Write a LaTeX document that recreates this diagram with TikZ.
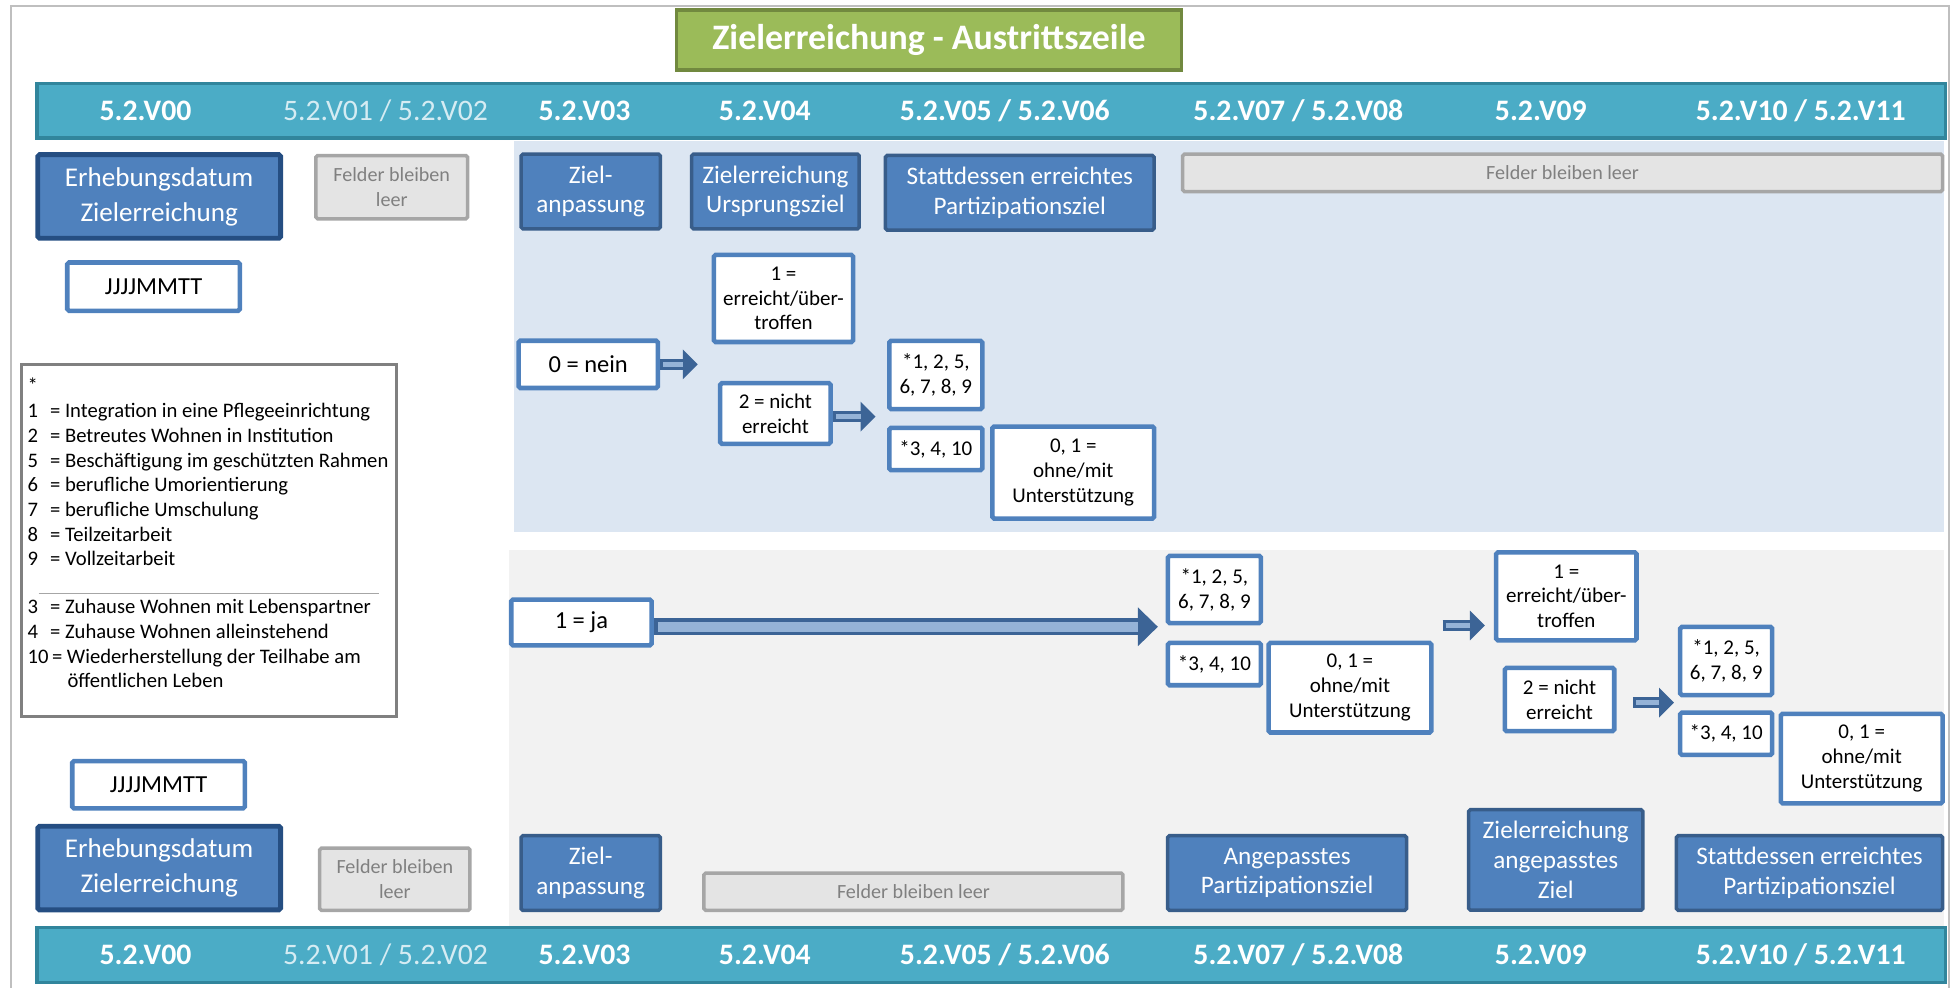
\documentclass[tikz,border=0pt]{standalone}
\usepackage{fontspec}
\setmainfont{Carlito}
\usetikzlibrary{arrows.meta}

\definecolor{framegray}{HTML}{BFBFBF}
\definecolor{titlefill}{HTML}{9BBB59}
\definecolor{titleline}{HTML}{71893F}
\definecolor{bandfill}{HTML}{4BACC6}
\definecolor{bandline}{HTML}{31859C}
\definecolor{bandfaint}{HTML}{D5ECF3}
\definecolor{boxfill}{HTML}{4F81BD}
\definecolor{boxline}{HTML}{385D8A}
\definecolor{dateline}{HTML}{254E82}
\definecolor{valline}{HTML}{4F81BD}
\definecolor{emptyfill}{HTML}{E4E4E4}
\definecolor{emptyline}{HTML}{A6A6A6}
\definecolor{emptytext}{HTML}{808080}
\definecolor{bgblue}{HTML}{DCE6F2}
\definecolor{bggray}{HTML}{F2F2F2}
\definecolor{arrline}{HTML}{3C6496}
\definecolor{arrshine}{HTML}{95B3D7}

\begin{document}
\begin{tikzpicture}[x=0.025cm, y=-0.025cm,
  band/.style={draw=bandline, fill=bandfill, line width=2pt, minimum width=38.35cm, minimum height=1.1cm, inner sep=0pt},
  bandtext/.style={text=white, font=\fontsize{17}{20}\selectfont\bfseries},
  bandfaint/.style={text=bandfaint, font=\fontsize{17}{20}\selectfont},
  fieldbox/.style={draw=boxline, fill=boxfill, line width=2pt, rounded corners=1pt, text=white, align=center, inner sep=0pt, font=\fontsize{14.4}{17}\selectfont},
  datebox/.style={fieldbox, draw=dateline, line width=2.8pt, font=\fontsize{15.5}{20}\selectfont},
  emptybox/.style={draw=emptyline, fill=emptyfill, line width=2pt, rounded corners=1pt, text=emptytext, align=center, inner sep=0pt, font=\fontsize{11.5}{14}\selectfont},
  valbox/.style={draw=valline, fill=white, line width=2.6pt, rounded corners=1pt, align=center, inner sep=0pt, font=\fontsize{12}{14.2}\selectfont},
  bigval/.style={valbox, font=\fontsize{14}{17}\selectfont},
  legendtext/.style={inner sep=0pt, align=left, font=\fontsize{11.8}{14.1}\selectfont},
  smallarrow/.style={draw=arrline, line width=0.225cm, -{Triangle[length=0.3cm, width=0.6cm, line width=0pt]}},
  bigarrow/.style={draw=arrline, line width=0.35cm, -{Triangle[length=0.4cm, width=0.78cm, line width=0pt]}},
  smallshine/.style={draw=arrshine, line width=0.11cm},
  bigshine/.style={draw=arrshine, line width=0.2cm}
]
\useasboundingbox (0,0) rectangle (1568,794);

% frame and backgrounds
\draw[framegray, line width=1.2pt] (9,820) -- (9,5) -- (1567,5) -- (1567,820);
\fill[bgblue] (413,113) rectangle (1563,428);
\fill[bggray] (409,442) rectangle (1563,745);

% title and header bands
\node[draw=titleline, fill=titlefill, line width=2.2pt, minimum width=10.15cm, minimum height=1.2cm, inner sep=0pt,
  text=white, font=\fontsize{20.5}{24}\selectfont\bfseries] (title) at (747,32) {Zielerreichung - Austrittszeile};

\node[band] (bandtop) at (797,89) {};
\node[band] (bandbot) at (797,768) {};

\foreach \y/\nm in {89/t, 768/b} {
  \node[bandtext] (v00\nm) at (117,\y) {5.2.V00};
  \node[bandfaint] (v01\nm) at (310,\y) {5.2.V01 / 5.2.V02};
  \node[bandtext] (v03\nm) at (470,\y) {5.2.V03};
  \node[bandtext] (v04\nm) at (615,\y) {5.2.V04};
  \node[bandtext] (v05\nm) at (808,\y) {5.2.V05 / 5.2.V06};
  \node[bandtext] (v07\nm) at (1044,\y) {5.2.V07 / 5.2.V08};
  \node[bandtext] (v09\nm) at (1239,\y) {5.2.V09};
  \node[bandtext] (v10\nm) at (1448,\y) {5.2.V10 / 5.2.V11};
}

% upper field row
\node[datebox, minimum width=4.88cm, minimum height=1.68cm] (erhtop) at (128,158) {Erhebungsdatum\\Zielerreichung};
\node[emptybox, minimum width=3.05cm, minimum height=1.27cm] (leertop) at (315,150.5) {Felder bleiben\\leer};
\node[fieldbox, minimum width=2.8cm, minimum height=1.5cm] (zieltop) at (475,154) {Ziel-\\anpassung};
\node[fieldbox, minimum width=3.37cm, minimum height=1.5cm] (urspr) at (623.5,154) {Zielerreichung\\Ursprungsziel};
\node[fieldbox, minimum width=5.4cm, minimum height=1.5cm] (statttop) at (820,155) {Stattdessen erreichtes\\Partizipationsziel};
\node[emptybox, minimum width=15.27cm, minimum height=0.75cm] (leerlong) at (1256.5,139) {Felder bleiben leer};

\node[bigval, minimum width=3.47cm, minimum height=0.97cm] (datetop) at (123.5,230.5) {JJJJMMTT};

% legend
\node[draw=gray, line width=1.8pt, minimum width=7.55cm, minimum height=7.08cm] (legend) at (168,434.5) {};
\node[legendtext, anchor=base west] (star) at (22,316) {*};
\node[legendtext, anchor=base west] (listA) at (22,455) {%
\makebox[0.45cm][l]{1}= Integration in eine Pflegeeinrichtung\\
\makebox[0.45cm][l]{2}= Betreutes Wohnen in Institution\\
\makebox[0.45cm][l]{5}= Beschäftigung im geschützten Rahmen\\
\makebox[0.45cm][l]{6}= berufliche Umorientierung\\
\makebox[0.45cm][l]{7}= berufliche Umschulung\\
\makebox[0.45cm][l]{8}= Teilzeitarbeit\\
\makebox[0.45cm][l]{9}= Vollzeitarbeit};
\draw[gray!70, line width=0.6pt] (31,477) -- (305,477);
\node[legendtext, anchor=base west] (listB) at (22,553) {%
\makebox[0.45cm][l]{3}= Zuhause Wohnen mit Lebenspartner\\
\makebox[0.45cm][l]{4}= Zuhause Wohnen alleinstehend\\
10\,= Wiederherstellung der Teilhabe am\\
\hspace*{0.8cm}öffentlichen Leben};

% upper flow (0 = nein)
\node[bigval, minimum width=2.8cm, minimum height=0.95cm] (nein) at (473,293) {0 = nein};
\node[valbox, minimum width=2.8cm, minimum height=1.75cm] (erreichtA) at (630,240) {1 =\\erreicht/über-\\troffen};
\node[valbox, minimum width=2.22cm, minimum height=1.22cm] (nichtA) at (623.5,332.5) {2 = nicht\\erreicht};
\node[valbox, minimum width=1.87cm, minimum height=1.37cm] (setA) at (752.5,301.5) {*1, 2, 5,\\6, 7, 8, 9};
\node[valbox, minimum width=1.87cm, minimum height=0.85cm] (restA) at (752.5,361) {*3, 4, 10};
\node[valbox, minimum width=3.25cm, minimum height=1.85cm] (ohneA) at (863,380) {0, 1 =\\ohne/mit\\Unterstützung};

\coordinate (neinend) at (561,293);
\coordinate (nichtAend) at (704,335);
\draw[smallarrow] (nein.east) -- (neinend);
\draw[smallshine] ([xshift=0.06cm]nein.east) -- ([xshift=-0.3cm]neinend);
\draw[smallarrow] (nichtA.east |- nichtAend) -- (nichtAend);
\draw[smallshine] ([xshift=0.06cm]nichtA.east |- nichtAend) -- ([xshift=-0.3cm]nichtAend);

% lower flow (1 = ja)
\node[bigval, minimum width=2.82cm, minimum height=0.92cm] (ja) at (467.5,500.5) {1 = ja};
\node[valbox, minimum width=1.87cm, minimum height=1.35cm] (setB) at (976.5,474) {*1, 2, 5,\\6, 7, 8, 9};
\node[valbox, minimum width=1.87cm, minimum height=0.85cm] (restB) at (976.5,534) {*3, 4, 10};
\node[valbox, minimum width=3.27cm, minimum height=1.8cm] (ohneB) at (1085.5,553) {0, 1 =\\ohne/mit\\Unterstützung};
\node[valbox, minimum width=2.82cm, minimum height=1.77cm] (erreichtB) at (1259.5,479.5) {1 =\\erreicht/über-\\troffen};
\node[valbox, minimum width=2.2cm, minimum height=1.27cm] (nichtB) at (1254,562.5) {2 = nicht\\erreicht};
\node[valbox, minimum width=1.85cm, minimum height=1.37cm] (setC) at (1388,531.5) {*1, 2, 5,\\6, 7, 8, 9};
\node[valbox, minimum width=1.85cm, minimum height=0.85cm] (restC) at (1388,590) {*3, 4, 10};
\node[valbox, minimum width=3.25cm, minimum height=1.8cm] (ohneC) at (1497,610) {0, 1 =\\ohne/mit\\Unterstützung};

\coordinate (jaend) at (931,504);
\coordinate (midstart) at (1160,503);
\coordinate (midend) at (1194,503);
\coordinate (nichtBstart) at (1313,565);
\coordinate (nichtBend) at (1346,565);
\draw[bigarrow] (ja.east |- jaend) -- (jaend);
\draw[bigshine] ([xshift=0.08cm]ja.east |- jaend) -- ([xshift=-0.4cm]jaend);
\draw[smallarrow] (midstart) -- (midend);
\draw[smallshine] ([xshift=0.06cm]midstart) -- ([xshift=-0.3cm]midend);
\draw[smallarrow] (nichtBstart) -- (nichtBend);
\draw[smallshine] ([xshift=0.06cm]nichtBstart) -- ([xshift=-0.3cm]nichtBend);

\node[bigval, minimum width=3.47cm, minimum height=0.95cm] (datebot) at (127.5,631) {JJJJMMTT};

% lower field row
\node[datebox, minimum width=4.88cm, minimum height=1.68cm] (erhbot) at (128,698) {Erhebungsdatum\\Zielerreichung};
\node[emptybox, minimum width=3.02cm, minimum height=1.25cm] (leerbot) at (317.5,707) {Felder bleiben\\leer};
\node[fieldbox, minimum width=2.8cm, minimum height=1.5cm] (zielbot) at (475,702) {Ziel-\\anpassung};
\node[emptybox, minimum width=8.42cm, minimum height=0.75cm] (leermid) at (734.5,717) {Felder bleiben leer};
\node[fieldbox, minimum width=4.8cm, minimum height=1.5cm] (angep) at (1035,702) {Angepasstes\\Partizipationsziel};
\node[fieldbox, minimum width=3.5cm, minimum height=2.02cm] (zielang) at (1251,691.5) {Zielerreichung\\angepasstes\\Ziel};
\node[fieldbox, minimum width=5.35cm, minimum height=1.5cm] (stattbot) at (1455,702) {Stattdessen erreichtes\\Partizipationsziel};

\end{tikzpicture}
\end{document}
